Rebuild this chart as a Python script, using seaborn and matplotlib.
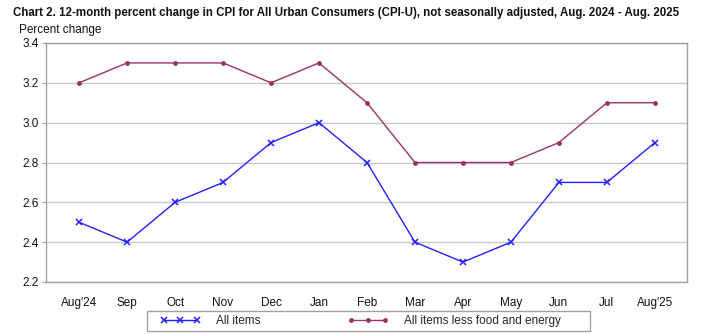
import matplotlib
matplotlib.use("Agg")
import matplotlib.pyplot as plt
from matplotlib.patches import Rectangle
import seaborn as sns
import pandas as pd

months = ["Aug'24", "Sep", "Oct", "Nov", "Dec", "Jan", "Feb", "Mar", "Apr", "May", "Jun", "Jul", "Aug'25"]
all_items = [2.5, 2.4, 2.6, 2.7, 2.9, 3.0, 2.8, 2.4, 2.3, 2.4, 2.7, 2.7, 2.9]
core = [3.2, 3.3, 3.3, 3.3, 3.2, 3.3, 3.1, 2.8, 2.8, 2.8, 2.9, 3.1, 3.1]
yticks = [2.2, 2.4, 2.6, 2.8, 3.0, 3.2, 3.4]
title = "Chart 2. 12-month percent change in CPI for All Urban Consumers (CPI-U), not seasonally adjusted, Aug. 2024 - Aug. 2025"

sns.set_theme(style="white")
plt.rcParams['font.family'] = ['Liberation Sans', 'DejaVu Sans']
W, H = 701, 334

df = pd.DataFrame({"x": range(len(months)), "All items": all_items,
                   "All items less food and energy": core})

fig = plt.figure(figsize=(W/100, H/100), dpi=100)
ax = fig.add_axes([46/W, 1 - 282/H, (687-46)/W, (282-43)/H])

sns.lineplot(data=df, x="x", y="All items", ax=ax, color="#2020FF", lw=1,
             marker="x", markersize=5, markeredgewidth=1.1, markeredgecolor="#2020FF",
             label="All items")
sns.lineplot(data=df, x="x", y="All items less food and energy", ax=ax, color="#993366", lw=1,
             marker="o", markersize=3.5, markeredgewidth=0, label="All items less food and energy")

ax.set_xlim(-0.69, 12.67)
ax.set_ylim(2.2, 3.4)
ax.set_yticks(yticks)
ax.set_yticklabels([f"{v:.1f}" for v in yticks], fontsize=8.5)
ax.set_xticks(range(len(months)))
ax.set_xticklabels(months, fontsize=8.5)
ax.set_xlabel("")
ax.set_ylabel("")
ax.grid(axis="y", color="#c8c8c8", lw=1)
ax.set_axisbelow(True)
for s in ax.spines.values():
    s.set_color("#a0a0a0")
    s.set_linewidth(1)
ax.tick_params(axis="y", which="major", left=True, length=3, width=0.8, color="#a0a0a0", pad=2, labelcolor="#111111")
ax.tick_params(axis="x", bottom=False, pad=5, labelcolor="#111111")

t = fig.text(13/W, 1 - 13/H, title, fontsize=9, fontweight="bold", va="center", ha="left", color="#111111")
fig.canvas.draw()
r = fig.canvas.get_renderer()
w = t.get_window_extent(r).width
t.set_fontsize(9 * 665 / w)
fig.text(19/W, 1 - 30/H, "Percent change", fontsize=8.5, va="center", ha="left", color="#111111")

ax.legend_.remove()
h, l = ax.get_legend_handles_labels()
leg = fig.legend(h, l, loc="center left", bbox_to_anchor=(160/W, 1 - 321/H), ncol=2,
                 fontsize=8.5, frameon=False, numpoints=3, handlelength=3.4,
                 columnspacing=7.4, borderpad=0.0, borderaxespad=0, handletextpad=1.35)
fig.patches.append(Rectangle((147/W, 1 - 331/H), (590-147)/W, 20/H, transform=fig.transFigure,
                             fill=False, edgecolor="#a0a0a0", lw=1))

fig.savefig("out.png", dpi=100)
